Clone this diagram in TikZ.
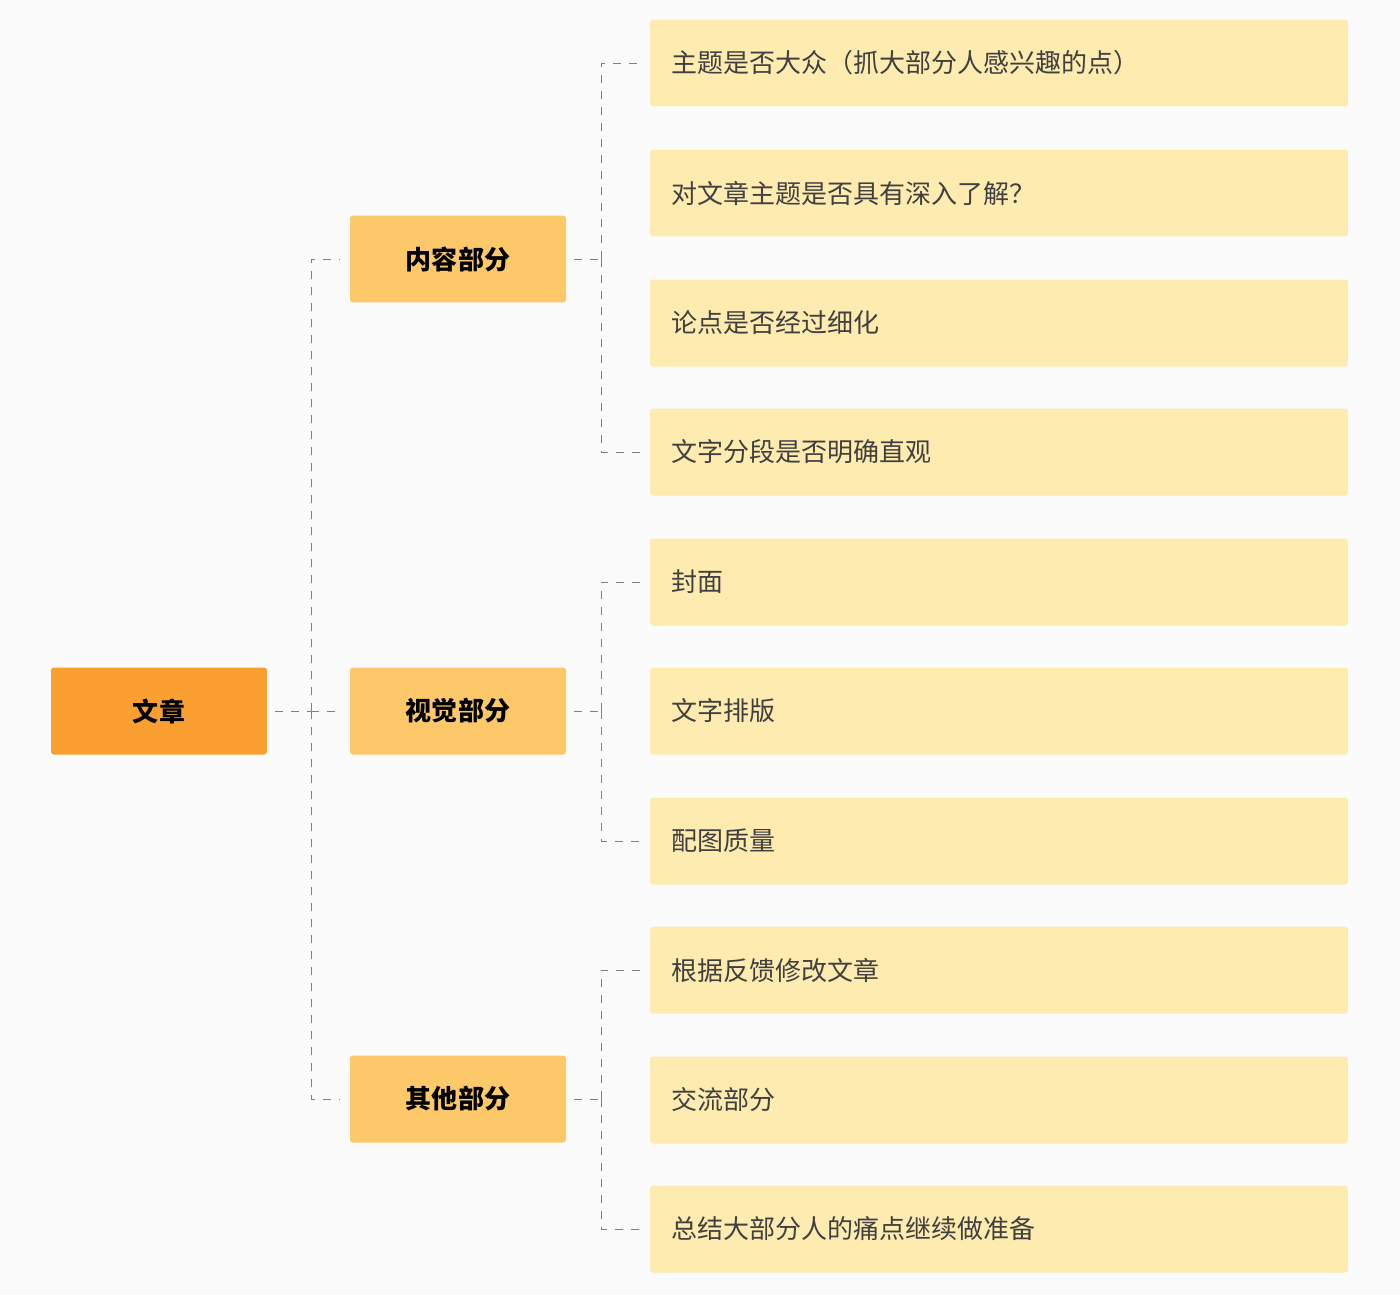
\documentclass[tikz,border=0pt]{standalone}
\usepackage{fontspec}
\newfontfamily\cjk{Noto Sans CJK SC}
\usetikzlibrary{calc}
\definecolor{rootc}{HTML}{FB9F30}
\definecolor{midc}{HTML}{FCC869}
\definecolor{leafc}{HTML}{FEEBB0}
\definecolor{bgc}{HTML}{FBFBFB}
\tikzset{
  box/.style = {rounded corners=4pt, minimum height=4.35cm, inner sep=0pt},
  root/.style = {box, fill=rootc, minimum width=10.8cm, font=\cjk\bfseries\fontsize{37}{40}\selectfont},
  part/.style = {box, fill=midc, minimum width=10.8cm, font=\cjk\bfseries\fontsize{37}{40}\selectfont},
  leaf/.style = {box, fill=leafc, minimum width=34.9cm, text width=32.8cm, align=left, text=black!75, font=\cjk\fontsize{37}{40}\selectfont},
  link/.style = {draw=black!50, dashed, dash pattern=on 0.4cm off 0.4cm, line width=1.4pt}
}
\begin{document}
\begin{tikzpicture}[x=0.05cm, y=-0.05cm]
        \fill[bgc] (0,0) rectangle (1400,1295);
        \node[root] (wz) at (159,711) {文章};
        \node[part] (nr) at (458,259) {内容部分};
        \node[part] (sj) at (458,711) {视觉部分};
        \node[part] (qt) at (458,1099) {其他部分};
        % leaves
        \foreach \n/\y/\t in {a/63/主题是否大众（抓大部分人感兴趣的点）, b/193/对文章主题是否具有深入了解？,
            c/323/论点是否经过细化, d/452/文字分段是否明确直观, e/582/封面, f/711/文字排版,
            g/841/配图质量, h/970/根据反馈修改文章, i/1100/交流部分, j/1229/总结大部分人的痛点继续做准备}
            \node[leaf] (\n) at (999,\y) {\t};
        % connectors
        \coordinate (r0) at ($(wz.east)+(8,0)$);
        \draw[link] (r0) -- (311,711);
        \foreach \p in {nr,sj,qt}
            \draw[link] (311,711) |- ($(\p.west)+(-10,0)$);
        \foreach \p/\u/\v in {nr/a/d, sj/e/g, qt/h/j} {
            \draw[link] ($(\p.east)+(8,0)$) -- (601,0 |- \p.east);
            \draw[link] (601,0 |- \p.east) |- ($(\u.west)+(-8,0)$);
            \draw[link] (601,0 |- \p.east) |- ($(\v.west)+(-8,0)$);
        }
\end{tikzpicture}
\end{document}
